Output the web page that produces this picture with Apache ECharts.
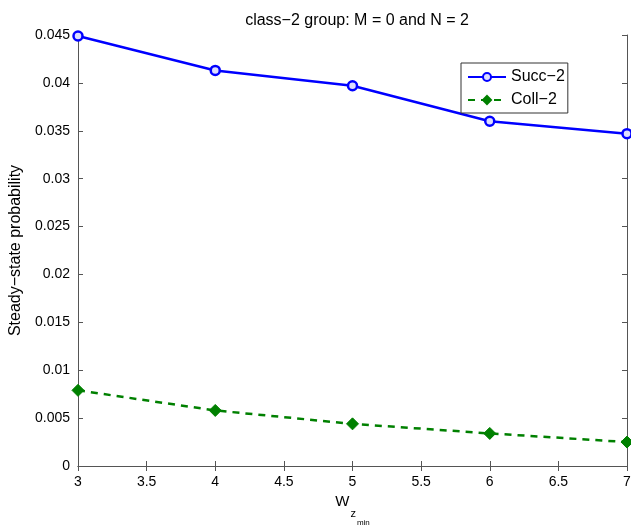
<!DOCTYPE html>
<html>
<head>
<meta charset="utf-8">
<script src="https://cdn.jsdelivr.net/npm/echarts@6/dist/echarts.min.js"></script>
<style>
  html, body { margin: 0; padding: 0; background: #fff; }
  #chart { width: 631px; height: 525px; }
</style>
</head>
<body>
<div id="chart"></div>
<script>
// data
const wzMin = [3, 4, 5, 6, 7];
const succ2 = [0.0449, 0.0413, 0.0397, 0.0360, 0.0347];
const coll2 = [0.0079, 0.0058, 0.0044, 0.0034, 0.0025];
const seriesNames = ["Succ\u22122", "Coll\u22122"];

const font = "Liberation Sans, Arial, Helvetica, sans-serif";
const axisColor = "#555";

const myChart = echarts.init(document.getElementById("chart"));

function axisBase(show) {
  return {
    axisLine: { show: true, lineStyle: { color: axisColor, width: 1 } },
    axisTick: { show: true, inside: true, length: 5, lineStyle: { color: axisColor } },
    splitLine: { show: false },
    axisLabel: {
      show: show,
      color: "#000",
      fontFamily: font,
      fontSize: 14,
    },
  };
}

const option = {
  backgroundColor: "#fff",
  animation: false,
  title: {
    text: "class\u22122 group: M = 0 and N = 2",
    left: 352,
    textAlign: "center",
    top: 8,
    textStyle: { fontFamily: font, fontSize: 16, fontWeight: "normal", color: "#000" },
  },
  grid: { left: 78, right: 4, top: 35, bottom: 59, outerBoundsMode: "none", containLabel: false },
  legend: {
    orient: "vertical",
    left: 461,
    top: 63,
    backgroundColor: "#fff",
    borderColor: "#333",
    borderWidth: 1,
    borderRadius: 0,
    padding: [6, 3, 5, 6],
    itemGap: 7,
    itemWidth: 38,
    itemHeight: 10,
    textStyle: { fontFamily: font, fontSize: 16, color: "#000" },
    data: seriesNames,
  },
  xAxis: [
    Object.assign(axisBase(true), {
      type: "value",
      min: 3,
      max: 7,
      interval: 0.5,
      position: "bottom",
      name: "{w|W}{z|z}{m|min}",
      nameLocation: "middle",
      nameGap: 26,
      nameTextStyle: {
        fontFamily: font,
        color: "#000",
        rich: {
          w: { fontFamily: font, fontSize: 15, verticalAlign: "top", padding: [0, 1, 0, 0] },
          z: { fontFamily: font, fontSize: 11, verticalAlign: "top", padding: [15, 1, 0, 0] },
          m: { fontFamily: font, fontSize: 8, verticalAlign: "top", padding: [25, 0, 0, 0] },
        },
      },
      axisLabel: { color: "#000", fontFamily: font, fontSize: 14, margin: 9 },
    }),
    Object.assign(axisBase(false), {
      type: "value",
      min: 3,
      max: 7,
      interval: 0.5,
      position: "top",
    }),
  ],
  yAxis: [
    Object.assign(axisBase(true), {
      type: "value",
      min: 0,
      max: 0.045,
      interval: 0.005,
      position: "left",
      name: "Steady\u2212state probability",
      nameLocation: "middle",
      nameGap: 51,
      nameTextStyle: { fontFamily: font, fontSize: 16, color: "#000" },
      axisLabel: {
        color: "#000",
        fontFamily: font,
        fontSize: 14,
        margin: 8,
        formatter: function (v) {
          return +v.toFixed(3) + "";
        },
      },
    }),
    Object.assign(axisBase(false), {
      type: "value",
      min: 0,
      max: 0.045,
      interval: 0.005,
      position: "right",
    }),
  ],
  series: [
    {
      name: seriesNames[0],
      type: "line",
      data: wzMin.map((x, i) => [x, succ2[i]]),
      symbol: "circle",
      symbolSize: 9,
      lineStyle: { color: "#0000ff", width: 2.5, type: "solid" },
      itemStyle: { color: "#ddddff", borderColor: "#0000ff", borderWidth: 2.5 },
      z: 3,
    },
    {
      name: seriesNames[1],
      type: "line",
      data: wzMin.map((x, i) => [x, coll2[i]]),
      symbol: "diamond",
      symbolSize: 12,
      lineStyle: { color: "#008000", width: 2.5, type: [7, 6] },
      itemStyle: { color: "#008000", borderColor: "#008000", borderWidth: 1 },
      z: 2,
    },
  ],
};

option && myChart.setOption(option);
</script>
</body>
</html>
